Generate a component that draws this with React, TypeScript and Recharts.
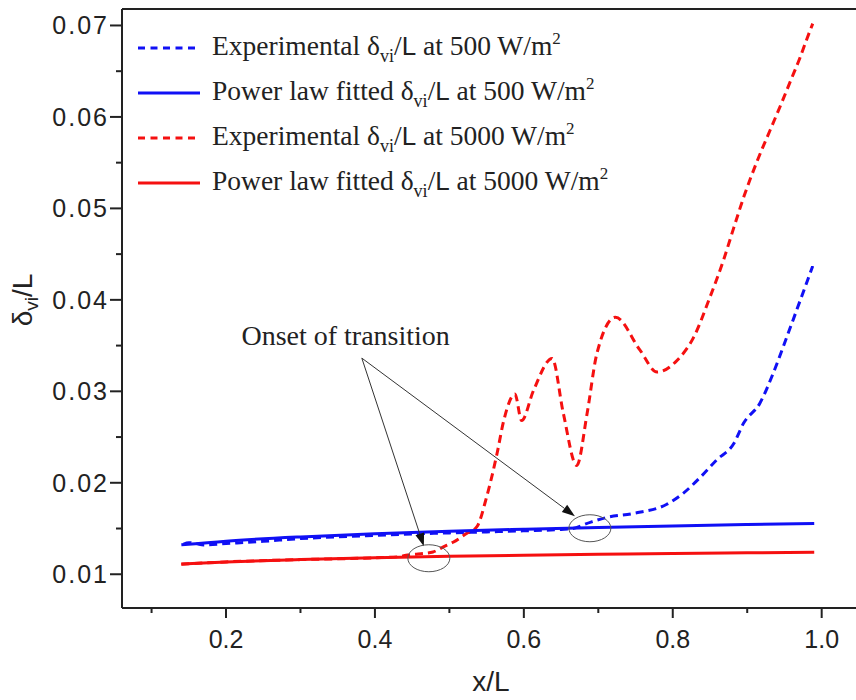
import { LineChart, Line, XAxis, YAxis, Legend, ReferenceLine, ReferenceDot } from 'recharts'

const BLUE = '#1010f5'
const RED = '#f51010'
const INK = '#222'
const SANS = '"Liberation Sans", Arial, sans-serif'
const SERIF = '"Liberation Serif", "Times New Roman", serif'

// axis ranges and ticks
const xDomain = [0.0603, 1.0461]
const yDomain = [0.00631, 0.0718]
const xMajor = [0.2, 0.4, 0.6, 0.8, 1.0]
const xMinor = [0.1, 0.3, 0.5, 0.7, 0.9]
const yMajor = [0.01, 0.02, 0.03, 0.04, 0.05, 0.06, 0.07]
const yMinor = [0.015, 0.025, 0.035, 0.045, 0.055, 0.065]

// experimental delta/L at 500 W/m2
const exp500X = [0.143, 0.15, 0.16, 0.17, 0.2, 0.25, 0.3, 0.35, 0.4, 0.45, 0.5, 0.55, 0.6, 0.65, 0.665, 0.69, 0.711, 0.747, 0.792, 0.814, 0.837, 0.859, 0.882, 0.895, 0.917, 0.935, 0.953, 0.971, 0.988]
const exp500Y = [0.0133, 0.01345, 0.01335, 0.0132, 0.01335, 0.0136, 0.0139, 0.0141, 0.01425, 0.0144, 0.01452, 0.01463, 0.01475, 0.0149, 0.015, 0.0157, 0.0162, 0.01665, 0.01765, 0.01885, 0.0206, 0.0225, 0.0243, 0.0265, 0.0287, 0.032, 0.0359, 0.0399, 0.0437]

// experimental delta/L at 5000 W/m2
const exp5000X = [0.14, 0.2, 0.3, 0.4, 0.43, 0.444, 0.478, 0.492, 0.505, 0.523, 0.537, 0.55, 0.564, 0.573, 0.588, 0.597, 0.613, 0.638, 0.653, 0.671, 0.685, 0.698, 0.723, 0.756, 0.779, 0.806, 0.828, 0.85, 0.868, 0.882, 0.896, 0.913, 0.931, 0.945, 0.958, 0.971, 0.98, 0.988]
const exp5000Y = [0.0111, 0.01135, 0.0116, 0.0118, 0.0119, 0.0121, 0.01244, 0.013, 0.0135, 0.01445, 0.0152, 0.01845, 0.0232, 0.0268, 0.0297, 0.0268, 0.0301, 0.0336, 0.0276, 0.0219, 0.0276, 0.0341, 0.0381, 0.0345, 0.0321, 0.0334, 0.0359, 0.0403, 0.0443, 0.0479, 0.0514, 0.0551, 0.0586, 0.0613, 0.0639, 0.0665, 0.0685, 0.0702]

// power law fits
const fitX = [0.14, 0.2, 0.3, 0.4, 0.5, 0.6, 0.7, 0.8, 0.9, 0.99]
const fit500Y = [0.01322, 0.01362, 0.01408, 0.01442, 0.0147, 0.01492, 0.01512, 0.01528, 0.01543, 0.01556]
const fit5000Y = [0.01112, 0.01134, 0.0116, 0.0118, 0.01196, 0.01208, 0.01218, 0.01227, 0.01234, 0.0124]

const legendItems = [
  { lead: 'Experimental', flux: '500', color: BLUE, dashed: true },
  { lead: 'Power law fitted', flux: '500', color: BLUE, dashed: false },
  { lead: 'Experimental', flux: '5000', color: RED, dashed: true },
  { lead: 'Power law fitted', flux: '5000', color: RED, dashed: false },
]

// annotation positions (data units)
const noteText = { x: 0.2207, y: 0.03505 }
const arrowFrom = { x: 0.3824, y: 0.03363 }
const arrowTips = [{ x: 0.4657, y: 0.01306 }, { x: 0.6686, y: 0.01635 }]
const circles = [{ x: 0.4724, y: 0.01175 }, { x: 0.6887, y: 0.01503 }]

const zip = (xs: number[], ys: number[]) => xs.map((x, i) => ({ x, y: ys[i] }))
const isIn = (list: number[], v: number) => list.some(m => Math.abs(m - v) < 1e-9)

function YTick(props: any) {
  const { x, y, payload } = props
  const major = isIn(yMajor, payload.value)
  const len = major ? 12 : 6
  return (
    <g>
      <line x1={x - len} x2={x} y1={y} y2={y} stroke={INK} strokeWidth={2} />
      {major && (
        <text x={x - 13} y={y} dy="0.36em" textAnchor="end" fontSize={25} letterSpacing={2} fontFamily={SANS} fill={INK}>
          {payload.value.toFixed(2)}
        </text>
      )}
    </g>
  )
}

function XTick(props: any) {
  const { x, y, payload } = props
  const major = isIn(xMajor, payload.value)
  const len = major ? 10 : 5
  return (
    <g>
      <line x1={x} x2={x} y1={y} y2={y + len} stroke={INK} strokeWidth={2} />
      {major && (
        <text x={x} y={y + 40} textAnchor="middle" fontSize={25} fontFamily={SANS} fill={INK}>
          {payload.value.toFixed(1)}
        </text>
      )}
    </g>
  )
}

function Arrow(props: any) {
  const { x1, y1, x2, y2 } = props
  const a = Math.atan2(y2 - y1, x2 - x1)
  const L = 13
  const W = 4.5
  const bx = x2 - L * Math.cos(a)
  const by = y2 - L * Math.sin(a)
  const px = -Math.sin(a) * W
  const py = Math.cos(a) * W
  return (
    <g>
      <line x1={x1} y1={y1} x2={bx} y2={by} stroke="#333" strokeWidth={1} />
      <polygon points={`${x2},${y2} ${bx + px},${by + py} ${bx - px},${by - py}`} fill="#111" />
    </g>
  )
}

function LegendBox() {
  return (
    <div style={{ display: 'flex', flexDirection: 'column' }}>
      {legendItems.map((it, i) => (
        <div key={i} style={{ display: 'flex', alignItems: 'center', height: 45, whiteSpace: 'nowrap' }}>
          <svg width={62} height={10}>
            <line x1={0} x2={62} y1={5} y2={5} stroke={it.color} strokeWidth={3} strokeDasharray={it.dashed ? '7 5.5' : undefined} />
          </svg>
          <span style={{ marginLeft: 12, fontFamily: SERIF, fontSize: 27.5, color: INK, lineHeight: '30px' }}>
            {it.lead} δ
            <span style={{ fontSize: 18, position: 'relative', top: 7 }}>vi</span>
            /<span style={{ fontFamily: SANS, fontSize: 26 }}>L</span> at {it.flux} W/m
            <span style={{ fontSize: 17, position: 'relative', top: -11 }}>2</span>
          </span>
        </div>
      ))}
    </div>
  )
}

export default function App() {
  return (
    <div style={{ position: 'absolute', left: 0, top: 0, width: 856, height: 700, background: '#fff' }}>
      <LineChart width={856} height={700} margin={{ top: 9, right: 0, bottom: 0, left: 0 }}>
        <XAxis
          type="number"
          dataKey="x"
          domain={xDomain}
          allowDataOverflow
          ticks={[...xMinor, ...xMajor].sort((a, b) => a - b)}
          interval={0}
          height={92}
          tickSize={0}
          tickMargin={0}
          tick={<XTick />}
          axisLine={{ stroke: INK, strokeWidth: 2 }}
          label={{
            content: (p: any) => (
              <text x={p.viewBox.x + p.viewBox.width / 2 + 2} y={p.viewBox.y + 83} textAnchor="middle" fontSize={28} fontFamily={SANS} fill={INK}>
                x/L
              </text>
            ),
          }}
        />
        <YAxis
          type="number"
          domain={yDomain}
          allowDataOverflow
          ticks={[...yMinor, ...yMajor].sort((a, b) => a - b)}
          interval={0}
          width={122}
          tickSize={0}
          tickMargin={0}
          tick={<YTick />}
          axisLine={{ stroke: INK, strokeWidth: 2 }}
          label={{
            content: () => (
              <text x={32} y={300} transform="rotate(-90 32 300)" textAnchor="middle" fontSize={28} fontFamily={SANS} fill={INK}>
                δ<tspan fontSize={19} dy={6}>vi</tspan>
                <tspan dy={-6}>/L</tspan>
              </text>
            ),
          }}
        />
        <ReferenceLine y={yDomain[1]} stroke={INK} strokeWidth={2} />
        <Line data={zip(exp500X, exp500Y)} dataKey="y" type="monotone" stroke={BLUE} strokeWidth={3} strokeDasharray="8 5" dot={false} isAnimationActive={false} />
        <Line data={zip(exp5000X, exp5000Y)} dataKey="y" type="monotone" stroke={RED} strokeWidth={3} strokeDasharray="8 5" dot={false} isAnimationActive={false} />
        <Line data={zip(fitX, fit500Y)} dataKey="y" type="monotone" stroke={BLUE} strokeWidth={3} dot={false} isAnimationActive={false} />
        <Line data={zip(fitX, fit5000Y)} dataKey="y" type="monotone" stroke={RED} strokeWidth={3} dot={false} isAnimationActive={false} />
        {arrowTips.map((t, i) => (
          <ReferenceLine key={`a${i}`} segment={[arrowFrom, t]} shape={<Arrow />} />
        ))}
        {circles.map((c, i) => (
          <ReferenceDot
            key={`c${i}`}
            x={c.x}
            y={c.y}
            r={1}
            shape={(p: any) => <ellipse cx={p.cx} cy={p.cy} rx={21} ry={13.5} fill="none" stroke="#555" strokeWidth={1} />}
          />
        ))}
        <ReferenceDot
          x={noteText.x}
          y={noteText.y}
          r={1}
          shape={(p: any) => (
            <text x={p.cx} y={p.cy} fontSize={28} fontFamily={SERIF} fill={INK}>
              Onset of transition
            </text>
          )}
        />
        <Legend
          layout="vertical"
          align="center"
          verticalAlign="middle"
          wrapperStyle={{ left: 138, top: 25, width: 600 }}
          content={() => <LegendBox />}
        />
      </LineChart>
    </div>
  )
}
